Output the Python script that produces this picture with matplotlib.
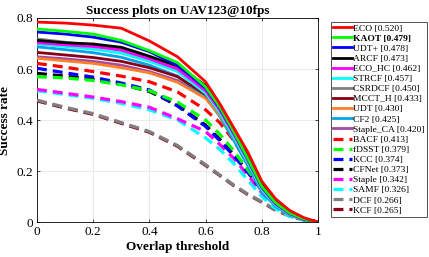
import matplotlib.pyplot as plt

# overlap thresholds where the curves were read
thresholds = [0, 0.1, 0.2, 0.3, 0.4, 0.5, 0.6, 0.65, 0.7, 0.75, 0.8, 0.85, 0.9, 0.95, 1.0]

trackers = ['ECO', 'KAOT', 'UDT+', 'ARCF', 'ECO_HC', 'STRCF', 'CSRDCF', 'MCCT_H', 'UDT', 'CF2',
            'Staple_CA', 'BACF', 'fDSST', 'KCC', 'CFNet', 'Staple', 'SAMF', 'DCF', 'KCF']
auc = [0.520, 0.479, 0.478, 0.473, 0.462, 0.457, 0.450, 0.433, 0.430, 0.425,
       0.420, 0.413, 0.379, 0.374, 0.373, 0.342, 0.326, 0.266, 0.265]

eco      = [.784, .780, .772, .760, .710, .648, .550, .465, .370, .275, .160, .090, .045, .017, 0]
kaot     = [.757, .748, .737, .712, .672, .625, .530, .452, .355, .250, .140, .075, .035, .012, 0]
udt_plus = [.745, .737, .725, .705, .668, .615, .525, .448, .352, .248, .138, .073, .034, .012, 0]
arcf     = [.712, .703, .698, .685, .650, .612, .535, .462, .365, .258, .148, .078, .036, .012, 0]
eco_hc   = [.703, .695, .688, .675, .640, .600, .515, .440, .345, .243, .135, .070, .032, .011, 0]
strcf    = [.698, .688, .678, .662, .630, .590, .505, .430, .335, .235, .128, .066, .030, .010, 0]
csrdcf   = [.718, .705, .692, .672, .636, .592, .505, .428, .332, .232, .127, .066, .030, .010, 0]
mcct_h   = [.665, .655, .645, .630, .605, .570, .500, .435, .345, .245, .135, .070, .032, .011, 0]
udt      = [.642, .632, .622, .605, .585, .548, .485, .420, .335, .238, .130, .067, .030, .010, 0]
cf2      = [.687, .676, .664, .646, .615, .572, .490, .415, .320, .222, .118, .060, .027, .009, 0]
staple_ca = [.648, .640, .630, .615, .590, .555, .490, .425, .338, .240, .132, .068, .031, .010, 0]
bacf     = [.622, .607, .590, .572, .550, .510, .440, .390, .320, .230, .135, .070, .032, .011, 0]
fdsst    = [.570, .565, .555, .538, .515, .470, .400, .345, .280, .205, .130, .070, .031, .010, 0]
kcc      = [.603, .585, .568, .545, .518, .455, .375, .320, .260, .195, .125, .068, .030, .010, 0]
cfnet    = [.583, .572, .560, .540, .512, .458, .380, .325, .265, .198, .127, .068, .030, .010, 0]
staple   = [.520, .505, .490, .472, .450, .405, .355, .305, .250, .185, .115, .065, .028, .009, 0]
samf     = [.515, .500, .485, .465, .440, .400, .330, .285, .230, .165, .100, .052, .022, .007, 0]
dcf      = [.478, .450, .425, .390, .355, .300, .225, .185, .145, .110, .080, .048, .024, .008, 0]
kcf      = [.475, .447, .422, .387, .352, .297, .222, .183, .143, .108, .078, .046, .023, .008, 0]

curves = [eco, kaot, udt_plus, arcf, eco_hc, strcf, csrdcf, mcct_h, udt, cf2,
          staple_ca, bacf, fdsst, kcc, cfnet, staple, samf, dcf, kcf]

colors = ['#ff0000', '#00ff00', '#0000ff', '#000000', '#ff00ff', '#00ffff', '#808080',
          '#880015', '#ff7f27', '#00a2e8', '#a349a4',
          '#ff0000', '#00ff00', '#0000ff', '#000000', '#ff00ff', '#00ffff', '#808080', '#880015']

plt.rcParams['font.family'] = ['Liberation Serif', 'DejaVu Serif']

fig = plt.figure(figsize=(4.29, 2.57), dpi=100)
ax = fig.add_axes([0.0862, 0.136, 0.655, 0.794])

# first 11 trackers solid, the rest dashed
lines = []
for i in range(len(trackers)):
    solid = i < 11
    ln, = ax.plot(thresholds, curves[i], color=colors[i],
                  lw=2.0 if solid else 2.3,
                  linestyle='-' if solid else (0, (3.1, 1.9)),
                  label=f"{trackers[i]} [{auc[i]:.3f}]",
                  zorder=40 - i)
    lines.append(ln)

ax.set_xlim(0, 1)
ax.set_ylim(0, 0.8)
ax.set_xticks([0, 0.2, 0.4, 0.6, 0.8, 1])
ax.set_xticklabels(['0', '0.2', '0.4', '0.6', '0.8', '1'])
ax.set_yticks([0, 0.2, 0.4, 0.6, 0.8])
ax.set_yticklabels(['0', '0.2', '0.4', '0.6', '0.8'])
ax.tick_params(direction='in', length=2.5, width=0.5, labelsize=9.5, top=True, right=True, pad=3)
ax.grid(True, color='#e6e6e6', lw=0.6)
ax.set_axisbelow(True)
for s in ax.spines.values():
    s.set_linewidth(0.6)

ax.set_title("Success plots on UAV123@10fps", fontsize=9.5, fontweight='bold', pad=3)
ax.set_xlabel("Overlap threshold", fontsize=9.5, fontweight='bold', labelpad=2)
ax.set_ylabel("Success rate", fontsize=9.5, fontweight='bold', labelpad=4)

leg = ax.legend(handles=lines, loc='upper left', bbox_to_anchor=(331 / 429, 1 - 22 / 257),
                bbox_transform=fig.transFigure, fontsize=6.8, labelspacing=0.16,
                handlelength=2.0, handletextpad=0.15, borderpad=0.2, borderaxespad=0,
                frameon=True, fancybox=False, edgecolor='black')
leg.get_frame().set_linewidth(0.6)
for t in leg.get_texts():
    if t.get_text().startswith('KAOT'):
        t.set_fontweight('bold')

fig.savefig('out.png', dpi=100)
